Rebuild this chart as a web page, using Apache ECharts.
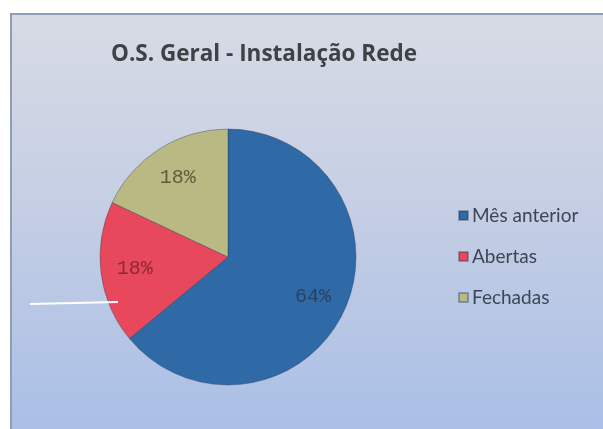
<!DOCTYPE html>
<html>
<head>
<meta charset="utf-8">
<script src="https://cdn.jsdelivr.net/npm/echarts@6/dist/echarts.min.js"></script>
<style>
  html, body { margin: 0; padding: 0; background: #fff; }
  #chart { width: 603px; height: 429px; }
</style>
</head>
<body>
<div id="chart"></div>
<script>
// dados
const categorias = ['Mês anterior', 'Abertas', 'Fechadas'];
const valores = [64, 18, 18];
const cores = ['#2f69a6', '#e8485c', '#b9b984'];
const coresRotulo = ['#2a4262', '#8a2a36', '#5e5d3c'];

const CENTRO = [228, 257];

const chart = echarts.init(document.getElementById('chart'));

const dados = categorias.map((nome, i) => ({
    name: nome,
    value: valores[i],
    itemStyle: { color: cores[i] }
}));

// série transparente só para posicionar os rótulos mais para fora
const dadosRotulo = categorias.map((nome, i) => ({
    name: nome,
    value: valores[i],
    label: { color: coresRotulo[i] }
}));

chart.setOption({
    backgroundColor: '#ffffff',
    animation: false,
    graphic: [
        {
            // moldura do gráfico com fundo degradê
            type: 'rect',
            z: -10,
            shape: { x: 11, y: 14, width: 600, height: 420 },
            style: {
                fill: {
                    type: 'linear', x: 0, y: 0, x2: 0, y2: 1,
                    colorStops: [
                        { offset: 0, color: '#d8dbe5' },
                        { offset: 0.5, color: '#c3cde4' },
                        { offset: 1, color: '#a9bfe7' }
                    ]
                },
                stroke: '#8f9cb6',
                lineWidth: 2
            }
        },
        {
            type: 'line',
            z: 10,
            shape: { x1: 30, y1: 304, x2: 118, y2: 302 },
            style: { stroke: '#ffffff', lineWidth: 2 }
        }
    ],
    title: {
        text: 'O.S. Geral - Instalação Rede',
        left: 259,
        top: 38,
        textAlign: 'center',
        textStyle: {
            fontFamily: 'Open Sans',
            fontSize: 22.5,
            fontWeight: 'bold',
            color: '#3f4245'
        }
    },
    legend: {
        orient: 'vertical',
        left: 453,
        top: 201,
        itemWidth: 9,
        itemHeight: 9,
        itemGap: 22,
        icon: 'rect',
        textStyle: {
            fontFamily: 'Lato',
            fontSize: 19,
            color: '#3d4654',
            padding: [0, 0, 0, -1]
        },
        data: categorias
    },
    series: [{
        type: 'pie',
        center: CENTRO,
        radius: 128,
        startAngle: 90,
        clockwise: true,
        data: dados,
        itemStyle: {
            borderColor: 'rgba(40,50,70,0.35)',
            borderWidth: 1
        },
        label: { show: false },
        labelLine: { show: false },
        emphasis: { disabled: true }
    }, {
        type: 'pie',
        center: CENTRO,
        radius: [60, 122],
        startAngle: 90,
        clockwise: true,
        silent: true,
        data: dadosRotulo,
        itemStyle: { color: 'rgba(0,0,0,0)' },
        label: {
            position: 'inside',
            formatter: '{d}%',
            fontFamily: 'Liberation Mono',
            fontSize: 20
        },
        labelLine: { show: false },
        emphasis: { disabled: true }
    }]
});
</script>
</body>
</html>
